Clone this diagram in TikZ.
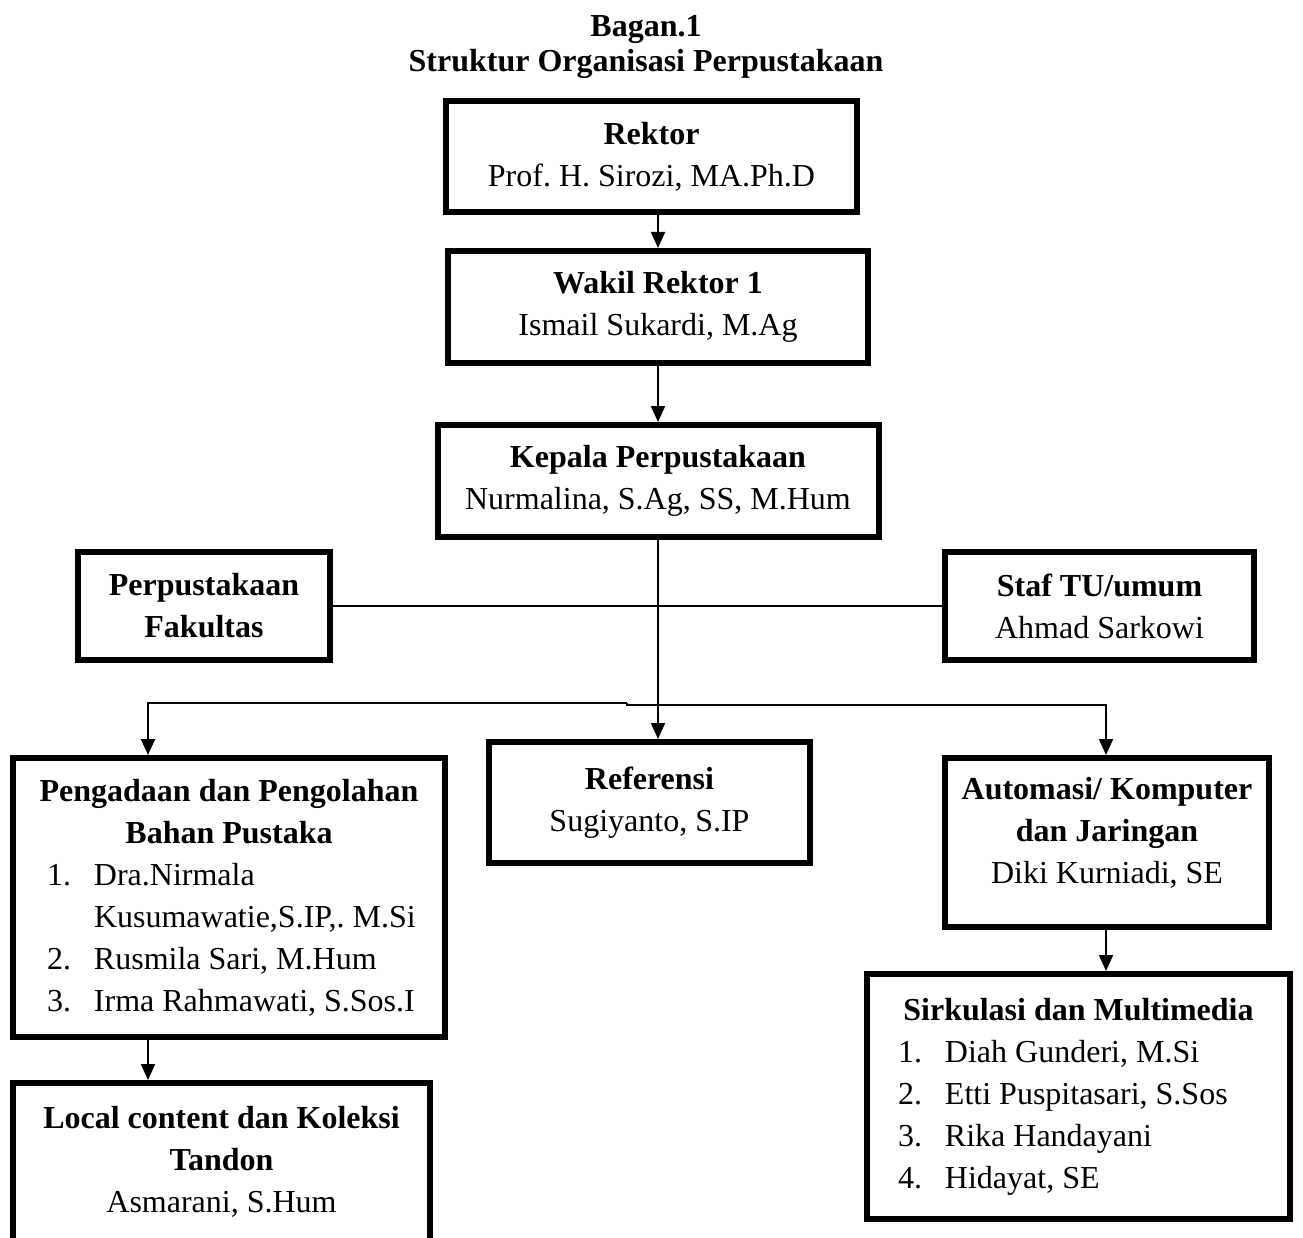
\documentclass[tikz,border=0pt]{standalone}
\usepackage{fontspec}
\setmainfont{Liberation Serif}
\usetikzlibrary{arrows.meta,positioning,calc}
\frenchspacing

\newcommand{\baris}[3]{\makebox[#1][l]{\makebox[47pt][l]{#2}#3}}

\begin{document}
\begin{tikzpicture}[x=1pt,y=-1pt,
	kotak/.style={draw,line width=6pt,align=center,inner sep=0pt,font=\fontsize{32}{42}\selectfont},
	garis/.style={line width=2pt},
	panah/.style={line width=2pt,-{Triangle[length=16pt,width=14pt]}}]
	\useasboundingbox (0,0) rectangle (1303,1238);
	\clip (0,0) rectangle (1303,1238);
	\node[align=center,inner sep=0pt,font=\fontsize{32}{35}\selectfont\bfseries] (judul) at (646,47) {Bagan.1\\Struktur Organisasi Perpustakaan};
	\node[kotak,minimum width=411pt,minimum height=111pt] (rektor) at (651.5,156.5) {\textbf{Rektor}\\Prof. H. Sirozi, MA.Ph.D};
	\node[kotak,minimum width=420pt,minimum height=112pt] (wakil) at (658,307) {\textbf{Wakil Rektor 1}\\Ismail Sukardi, M.Ag};
	\node[kotak,minimum width=441pt,minimum height=112pt] (kepala) at (658,481) {\textbf{Kepala Perpustakaan}\\Nurmalina, S.Ag, SS, M.Hum};
	\node[kotak,minimum width=252pt,minimum height=108pt] (fak) at (204,606) {\textbf{Perpustakaan}\\\textbf{Fakultas}};
	\node[kotak,minimum width=309pt,minimum height=108pt] (staf) at (1099.5,606) {\textbf{Staf TU/umum}\\Ahmad Sarkowi};
	\node[kotak,minimum width=432pt,minimum height=279pt] (peng) at (229,897.5) {\textbf{Pengadaan dan Pengolahan}\\\textbf{Bahan Pustaka}\\
		\baris{364pt}{1.}{Dra.Nirmala}\\\baris{364pt}{}{Kusumawatie,S.IP,. M.Si}\\
		\baris{364pt}{2.}{Rusmila Sari, M.Hum}\\\baris{364pt}{3.}{Irma Rahmawati, S.Sos.I}};
	\node[kotak,minimum width=321pt,minimum height=121pt] (ref) at (649.5,802.5) {\textbf{Referensi}\\Sugiyanto, S.IP};
	\node[kotak,minimum width=324pt,minimum height=169pt] (auto) at (1107,842.5) {\textbf{Automasi/ Komputer}\\\textbf{dan Jaringan}\\Diki Kurniadi, SE\\[-18pt]\mbox{}};
	\node[kotak,minimum width=417pt,minimum height=194pt] (local) at (221.5,1180) {\textbf{Local content dan Koleksi}\\\textbf{Tandon}\\Asmarani, S.Hum\\\mbox{}};
	\node[kotak,minimum width=423pt,minimum height=245pt] (sirk) at (1078.5,1096.5) {\textbf{Sirkulasi dan Multimedia}\\
		\baris{361pt}{1.}{Diah Gunderi, M.Si}\\\baris{361pt}{2.}{Etti Puspitasari, S.Sos}\\
		\baris{361pt}{3.}{Rika Handayani}\\\baris{361pt}{4.}{Hidayat, SE}};
	\coordinate (tekuk) at (627,703);
	\coordinate (kiri) at (148,703);
	\coordinate (kanan) at (1106,705);
	\draw[panah] (rektor.south -| wakil.north) -- (wakil.north);
	\draw[panah] (wakil.south) -- (kepala.north);
	\draw[garis] (fak.east) -- (staf.west);
	\draw[panah] (kepala.south) -- (kepala.south |- ref.north);
	\draw[panah] (tekuk) -- (kiri) -- (kiri |- peng.north);
	\draw[panah] (tekuk) -- ++(0,2) -- (kanan) -- (kanan |- auto.north);
	\draw[panah] (kiri |- peng.south) -- (kiri |- local.north);
	\draw[panah] (kanan |- auto.south) -- (kanan |- sirk.north);
\end{tikzpicture}
\end{document}
